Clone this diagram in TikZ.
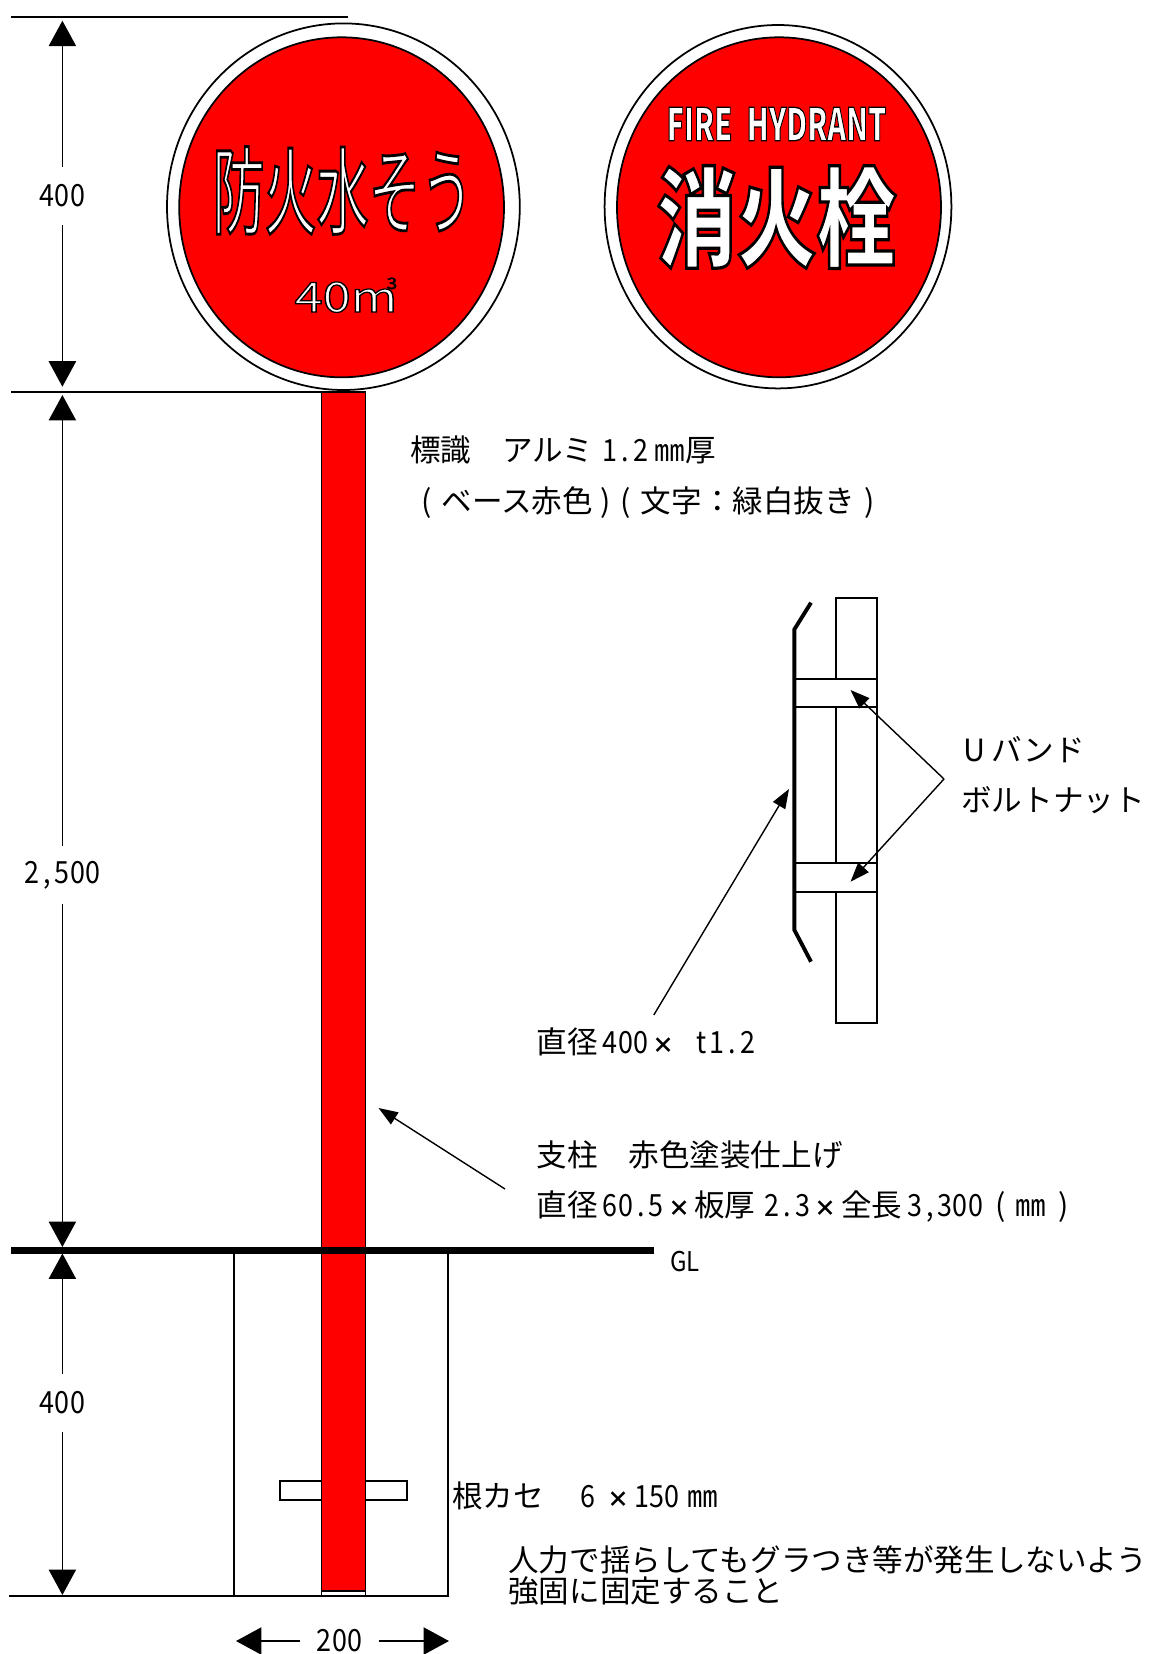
\documentclass[tikz,border=0pt]{standalone}
\usepackage{fontspec}
\setmainfont{Noto Sans CJK JP}
\newfontfamily\narrowfont[FakeStretch=0.88]{Noto Sans CJK JP}
\newfontfamily\signfont[RawFeature={embolden=3.0}]{Noto Sans CJK JP}
\usetikzlibrary{arrows.meta}
\makeatletter
\newcommand{\hcells}[1]{\@tfor\hc@tok:=#1\do{\makebox[0.5em]{\narrowfont\hc@tok}}}
\makeatother
\newcommand{\mul}{\makebox[1em]{\scalebox{0.72}{\bfseries ×}}}
\newcommand{\signtext}[3]{\scalebox{#1}[#2]{\special{pdf:bcolor [1 1 1] [0 0 0]}#3\special{pdf:ecolor}}}
\tikzset{
    txt/.style={font=\fontsize{17.4}{18}\selectfont, inner sep=0pt, anchor=west},
    dimlabel/.style={font=\fontsize{17.4}{18}\selectfont, inner sep=0pt, minimum width=44pt, minimum height=33pt},
    dimtip/.style={line width=1pt, -{Triangle[length=14.5pt,width=15.5pt]}},
    leader/.style={line width=0.8pt, -{Triangle[length=11pt,width=8pt]}},
    outline/.style={draw=black, line width=1pt},
    redfill/.style={outline, fill=red}
}
\begin{document}
\begin{tikzpicture}[x=0.02cm, y=-0.02cm]
    \useasboundingbox (0,0) rectangle (1152,1654);
    \draw[outline, fill=white](343.4,206.7) ellipse(176.4 and 183.3);
    \draw[redfill](341.6,207.3) ellipse(162.4 and 170);
    \draw[outline, fill=white](778,206.7) ellipse(173.4 and 181.7);
    \draw[redfill](779,207.3) ellipse(162 and 170);
    \node[inner sep=0pt, font=\fontsize{57}{57}\signfont] (signwater) at (342.7,190.5) {\signtext{0.52}{0.95}{防火水そう}};
    \node[inner sep=0pt, font=\fontsize{23.5}{24}\signfont] (signvolume) at (346,295) {\signtext{1.22}{1}{40m\kern-5pt\raisebox{13pt}{\color{black}\fontsize{9}{9}\selectfont 3}}};
    \node[inner sep=0pt, font=\fontsize{25.5}{26}\signfont\bfseries] (signenglish) at (776.5,124) {\signtext{0.64}{1}{FIRE\hspace{0.5em}HYDRANT}};
    \node[inner sep=0pt, font=\fontsize{61.5}{62}\signfont\bfseries] (signhydrant) at (776.6,217) {\signtext{0.74}{1}{消火栓}};
    \draw[outline, fill=white](234,1250) rectangle (447.8,1596);
    \draw[outline, fill=white](280,1480.7) rectangle (406.7,1500);
    \draw[line width=0.6pt](321.5,1250) rectangle (365.5,1596);
    \draw[redfill](321.5,392) rectangle (365.5,1591);
    \draw[line width=1pt](11,16.7) -- (347.5,16.7);
    \draw[line width=1pt](11,392) -- (347.5,392);
    \draw[line width=4.2pt](11,1250.3) -- (654,1250.3);
    \draw[line width=1pt](8.8,1596) -- (449,1596);
    \foreach \id/\val/\ya/\ym/\yb in {topdim/{\hcells{400}}/20.7/196/386.7,
    postdim/{\hcells{2,500}}/395/875/1247,
    footdim/{\hcells{400}}/1253.5/1403/1595}{
        \node[dimlabel] (\id) at (62.4,\ym) {\val};
        \coordinate (\id a) at (62.4,\ya);
        \coordinate (\id b) at (62.4,\yb);
        \draw[dimtip](\id) -- (\id a);
        \draw[dimtip](\id) -- (\id b);
    }
    \node[dimlabel] (widthdim) at (339.5,1641) {\hcells{200}};
    \coordinate (widtha) at (236,1641);
    \coordinate (widthb) at (449,1641);
    \draw[dimtip](widthdim) -- (widtha);
    \draw[dimtip](widthdim) -- (widthb);
    \draw[outline, fill=white](836,598.3) rectangle (877,1023.3);
    \draw[outline, fill=white](795,679.3) rectangle (877,707.3);
    \draw[outline, fill=white](795,863.3) rectangle (877,891.7);
    \draw[line width=2.2pt](811,602.7) -- (794.4,629.3) -- (794.4,930) -- (811,961.7);
    \node[txt] (plate1) at (410,450) {標識　アルミ\kern.3em\hcells{1.2}\kern.2em ㎜厚};
    \node[txt] (plate2) at (421,503) {(\kern.33em ベース赤色\kern.23em)\kern.33em(\kern.33em 文字：緑白抜き\kern.3em)};
    \node[txt] (band1) at (963,750) {U\kern.2em バンド};
    \node[txt] (band2) at (961,800) {ボルトナット};
    \node[txt] (sizeplate) at (536.6,1042) {直径\kern.15em\hcells{400}\mul\hcells{~t1.2}};
    \node[txt] (post1) at (536.6,1155) {支柱　赤色塗装仕上げ};
    \node[txt] (post2) at (536.6,1207) {直径\kern.15em\hcells{60.5}\mul 板厚\kern.3em\hcells{2.3}\mul 全長\kern.15em\hcells{3,300}\kern.4em(\kern.33em ㎜\kern.4em)};
    \node[txt, font=\fontsize{15.5}{18}\narrowfont] (groundlevel) at (670,1262) {GL};
    \node[txt] (brace) at (452,1495.6) {根カセ　\kern.2em\hcells{6}\kern.25em\mul\hcells{150}\kern.25em ㎜};
    \node[txt] (note1) at (508,1559.5) {人力で揺らしてもグラつき等が発生しないよう};
    \node[txt] (note2) at (508,1591) {強固に固定すること};
    \coordinate (bandfork) at (944,779);
    \coordinate (bandupper) at (850.5,690);
    \coordinate (bandlower) at (850.5,881.7);
    \coordinate (platefoot) at (653.8,1015);
    \coordinate (platetip) at (789,789);
    \coordinate (postfoot) at (505,1189);
    \coordinate (posttip) at (378.5,1108);
    \draw[leader](bandfork) -- (bandupper);
    \draw[leader](bandfork) -- (bandlower);
    \draw[leader](platefoot) -- (platetip);
    \draw[leader](postfoot) -- (posttip);
\end{tikzpicture}
\end{document}
